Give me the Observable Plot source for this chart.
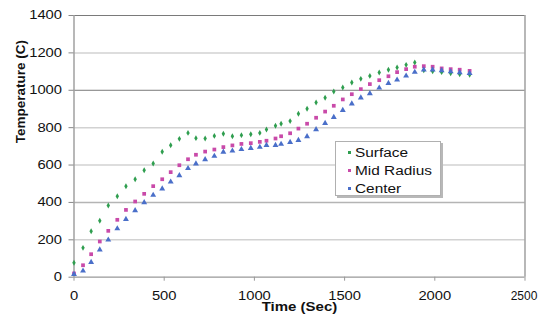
<!DOCTYPE html>
<html>
<head>
<meta charset="utf-8">
<script src="https://cdn.jsdelivr.net/npm/d3@7"></script>
<script src="https://cdn.jsdelivr.net/npm/@observablehq/plot@0.6"></script>
<style>
  html, body { margin: 0; padding: 0; background: #fff; }
  #wrap { position: relative; width: 539px; height: 320px; font-family: "Liberation Sans", Arial, sans-serif; }
  #legend { position: absolute; left: 335px; top: 141px; width: 104px; height: 53px; background: #fff;
    border: 1px solid #b0b0b0; box-shadow: 2px 2px 0 #b8b8b8; }
  .row { position: absolute; left: 0; height: 14px; line-height: 14px; font-size: 12.5px; color: #111; }
  .mk { position: absolute; left: 12px; top: 5px; width: 3px; height: 3px; }
  .lb { position: absolute; left: 19px; top: 0; white-space: nowrap; transform: scaleX(1.23); transform-origin: 0 50%; }
</style>
</head>
<body>
<div id="wrap"></div>
<script>
const seriesNames = ["Surface", "Mid Radius", "Center"];
const times = [0,50,95,143,190,240,288,339,389,439,
  489,536,584,632,676,727,778,828,878,928,
  980,1030,1067,1117,1148,1198,1244,1292,1342,1392,
  1440,1490,1540,1590,1640,1692,1743,1791,1841,1889,
  1939,1988,2038,2088,2138,2193];
const surface = [77,157,246,302,384,433,487,524,572,608,
  671,706,740,772,744,742,756,767,754,760,
  765,772,790,810,821,835,874,901,935,960,
  993,1015,1042,1061,1077,1095,1110,1122,1136,1149,
  1107,1102,1097,1091,1086,1083];
const midRadius = [20,64,123,191,248,307,360,405,446,487,
  524,562,599,631,655,672,683,696,705,713,
  717,724,730,742,754,770,795,821,853,886,
  917,951,979,1006,1033,1054,1075,1097,1113,1126,
  1129,1126,1117,1113,1110,1104];
const center = [16,34,80,147,200,260,310,357,400,439,
  473,510,544,582,607,630,648,670,676,684,
  690,696,706,706,712,722,733,753,790,824,
  856,893,928,960,983,1013,1038,1056,1077,1097,
  1110,1110,1106,1100,1095,1091];
const xTicks = [0, 500, 1000, 1500, 2000, 2500];
const yTicks = [0, 200, 400, 600, 800, 1000, 1200, 1400];
const xLabel = "Time (Sec)";
const yLabel = "Temperature (C)";

const colors = ["#2f9e4f", "#c94aa9", "#4a6fc9"];
const symbols = ["diamond", "square", "triangle"];
const sizes = [1.8, 2.1, 2.2];

const seriesRows = [surface, midRadius, center].map((vals, k) =>
  vals.map((v, i) => ({series: seriesNames[k], t: times[i], T: v})));

const gridColor = d => (d === 1400 || d === 1000) ? "#7a7a7a" : (d === 400 ? "#b4b4b4" : "#d2d2d2");
const gridWidth = d => (d === 1400 || d === 1000) ? 1 : 1.5;

const chart = Plot.plot({
  width: 539,
  height: 320,
  marginLeft: 73.5,
  marginRight: 14.5,
  marginTop: 15,
  marginBottom: 43.3,
  style: {fontFamily: "'Liberation Sans', Arial, sans-serif", fontSize: "12px", color: "#111", background: "#fff"},
  x: {domain: [0, 2500]},
  y: {domain: [0, 1400]},
  color: {domain: seriesNames, range: colors},
  symbol: {domain: seriesNames, range: symbols},
  marks: [
    Plot.ruleY(yTicks.filter(d => d > 0), {y: d => d, stroke: gridColor, strokeWidth: gridWidth}),
    Plot.ruleX([2500], {stroke: "#888", strokeWidth: 1.2}),
    Plot.ruleY([0], {stroke: "#999", strokeWidth: 1.2}),
    Plot.ruleX([0], {stroke: "#a0a0a0", strokeWidth: 1.5}),
    Plot.axisX({ticks: xTicks, tickSize: 4, tickPadding: 10, stroke: "#999", label: null, tickFormat: d => String(d)}),
    Plot.axisY({ticks: yTicks, tickSize: 5, tickPadding: 7, stroke: "#888", label: null, tickFormat: d => String(d)}),
    Plot.text([xLabel], {frameAnchor: "bottom", dy: 34, text: d => d, fontWeight: "bold", fontSize: 12.5}),
    Plot.text([yLabel], {frameAnchor: "left", dx: -53, dy: -3, rotate: -90, text: d => d, fontWeight: "bold", fontSize: 13.5}),
    ...seriesRows.map((rows, k) =>
      Plot.dot(rows, {x: "t", y: "T", fill: "series", symbol: "series", r: sizes[k], stroke: "none"}))
  ]
});

// stretch tick labels horizontally like the reference rendering
chart.querySelectorAll('g[aria-label="x-axis tick label"] text, g[aria-label="y-axis tick label"] text').forEach(t => {
  const tr = t.getAttribute("transform") || "";
  const s = t.textContent === "2500" ? 1.0 : 1.23;
  t.setAttribute("transform", tr + ` scale(${s},1)`);
  if (t.textContent === "2500") t.setAttribute("dx", "-1");
});
chart.querySelectorAll('g[aria-label="text"] text').forEach(t => {
  const tr = t.getAttribute("transform") || "";
  if (!tr.includes("rotate")) t.setAttribute("transform", tr + " scale(1.2,1)");
});

const wrap = document.getElementById("wrap");
wrap.appendChild(chart);

const legend = document.createElement("div");
legend.id = "legend";
seriesNames.forEach((name, k) => {
  const row = document.createElement("div");
  row.className = "row";
  row.style.top = (4 + k * 18) + "px";
  const mk = document.createElement("span");
  mk.className = "mk";
  mk.style.background = colors[k];
  const lb = document.createElement("span");
  lb.className = "lb";
  lb.textContent = name;
  row.appendChild(mk);
  row.appendChild(lb);
  legend.appendChild(row);
});
wrap.appendChild(legend);
</script>
</body>
</html>
